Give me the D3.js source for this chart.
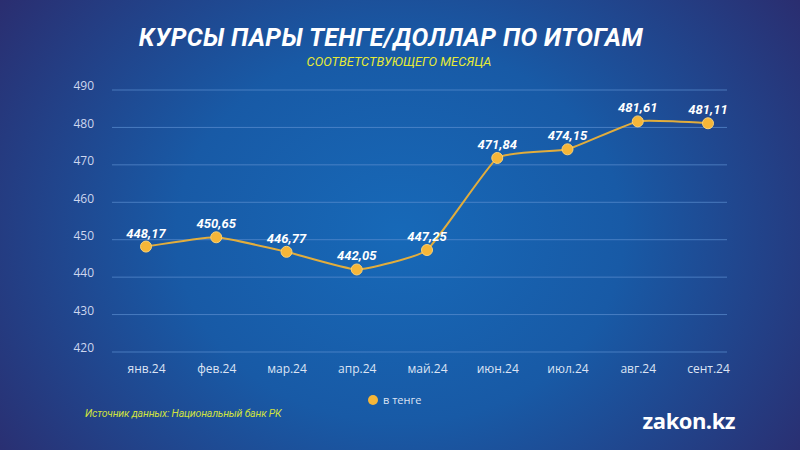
<!DOCTYPE html>
<html lang="ru">
<head>
<meta charset="utf-8">
<title>Курсы пары тенге/доллар</title>
<script src="https://d3js.org/d3.v7.min.js"></script>
<style>
  html, body { margin: 0; padding: 0; background: #23306f; }
  svg { display: block; }
</style>
</head>
<body>
<div id="chart"></div>
<script>
// данные
var months = ["янв.24", "фев.24", "мар.24", "апр.24", "май.24", "июн.24", "июл.24", "авг.24", "сент.24"];
var rates = [448.17, 450.65, 446.77, 442.05, 447.25, 471.84, 474.15, 481.61, 481.11];
var yTicks = [420, 430, 440, 450, 460, 470, 480, 490];
var seriesName = "в тенге";

var width = 800,
    height = 450;

var svg = d3.select("#chart")
    .append("svg")
    .attr("width", width)
    .attr("height", height);

// фон
var defs = svg.append("defs");
var grad = defs.append("radialGradient")
    .attr("id", "bg")
    .attr("cx", "50%").attr("cy", "52%")
    .attr("r", "62%")
    .attr("gradientTransform", "translate(0.5,0.52) scale(1,1.5) translate(-0.5,-0.52)");
grad.append("stop").attr("offset", "0%").attr("stop-color", "#1769b8");
grad.append("stop").attr("offset", "45%").attr("stop-color", "#185aa6");
grad.append("stop").attr("offset", "100%").attr("stop-color", "#2b2c6e");

svg.append("rect")
    .attr("width", width)
    .attr("height", height)
    .attr("fill", "url(#bg)");

// заголовки
svg.append("text")
    .attr("x", 391)
    .attr("y", 46)
    .attr("text-anchor", "middle")
    .attr("fill", "#ffffff")
    .style("font-family", "Roboto, sans-serif")
    .style("font-weight", "bold")
    .style("font-style", "italic")
    .style("font-size", "25px")
    .style("letter-spacing", "0.4px")
    .text("КУРСЫ ПАРЫ ТЕНГЕ/ДОЛЛАР ПО ИТОГАМ");

svg.append("text")
    .attr("x", 399)
    .attr("y", 66)
    .attr("text-anchor", "middle")
    .attr("fill", "#e6ea36")
    .style("font-family", "Roboto, sans-serif")
    .style("font-style", "italic")
    .style("font-size", "12.8px")
    .text("СООТВЕТСТВУЮЩЕГО МЕСЯЦА");

// шкалы
var x = d3.scalePoint()
    .domain(months)
    .range([146, 708]);

var y = d3.scaleLinear()
    .domain([420, 490])
    .range([352, 90]);

// сетка
svg.append("g")
    .selectAll("line")
    .data(yTicks)
    .enter().append("line")
    .attr("x1", 112)
    .attr("x2", 727)
    .attr("y1", function(d) { return y(d); })
    .attr("y2", function(d) { return y(d); })
    .attr("stroke", "#5b8fd0")
    .attr("stroke-opacity", 0.7)
    .attr("stroke-width", 1);

var yAxis = d3.axisLeft(y)
    .tickValues(yTicks)
    .tickSize(0)
    .tickPadding(0);

svg.append("g")
    .attr("transform", "translate(94,-4)")
    .call(yAxis)
    .call(function(g) { g.select(".domain").remove(); })
    .selectAll("text")
    .attr("fill", "#cdd6ee")
    .style("font-family", "'Open Sans', sans-serif")
    .style("font-size", "12px");

var xAxis = d3.axisBottom(x)
    .tickSize(0)
    .tickPadding(0);

svg.append("g")
    .attr("transform", "translate(0,364)")
    .call(xAxis)
    .call(function(g) { g.select(".domain").remove(); })
    .selectAll("text")
    .attr("fill", "#dde4f4")
    .style("font-family", "'Open Sans', sans-serif")
    .style("font-size", "12px");

// линия
var line = d3.line()
    .x(function(d, i) { return x(months[i]); })
    .y(function(d) { return y(d); })
    .curve(d3.curveCardinal.tension(0.6));

svg.append("path")
    .datum(rates)
    .attr("d", line)
    .attr("fill", "none")
    .attr("stroke", "#e2ad3c")
    .attr("stroke-width", 2);

svg.append("g")
    .selectAll("circle")
    .data(rates)
    .enter().append("circle")
    .attr("cx", function(d, i) { return x(months[i]); })
    .attr("cy", function(d) { return y(d); })
    .attr("r", 5.5)
    .attr("fill", "#f6b638")
    .attr("stroke", "#f9d277")
    .attr("stroke-width", 1);

var fmt = function(v) { return d3.format(".2f")(v).replace(".", ","); };

svg.append("g")
    .selectAll("text")
    .data(rates)
    .enter().append("text")
    .attr("x", function(d, i) { return x(months[i]); })
    .attr("y", function(d) { return y(d) - 9; })
    .attr("text-anchor", "middle")
    .attr("fill", "#ffffff")
    .style("font-family", "Roboto, sans-serif")
    .style("font-weight", "bold")
    .style("font-style", "italic")
    .style("font-size", "13px")
    .text(fmt);

// легенда
var legend = svg.append("g").attr("transform", "translate(373,400)");
legend.append("circle")
    .attr("r", 5)
    .attr("fill", "#f6b638");
legend.append("text")
    .attr("x", 10)
    .attr("y", 4)
    .attr("fill", "#dde4f4")
    .style("font-family", "'Open Sans', sans-serif")
    .style("font-size", "11px")
    .text(seriesName);

// подписи
svg.append("text")
    .attr("x", 85)
    .attr("y", 417)
    .attr("fill", "#cfe03f")
    .style("font-family", "Roboto, sans-serif")
    .style("font-style", "italic")
    .style("font-size", "10.5px")
    .style("letter-spacing", "-0.2px")
    .text("Источник данных: Национальный банк РК");

svg.append("text")
    .attr("x", 735)
    .attr("y", 429)
    .attr("text-anchor", "end")
    .attr("fill", "#ffffff")
    .style("font-family", "'Open Sans', sans-serif")
    .style("font-weight", "bold")
    .style("font-size", "22px")
    .style("letter-spacing", "-0.5px")
    .text("zakon.kz");
</script>
</body>
</html>
